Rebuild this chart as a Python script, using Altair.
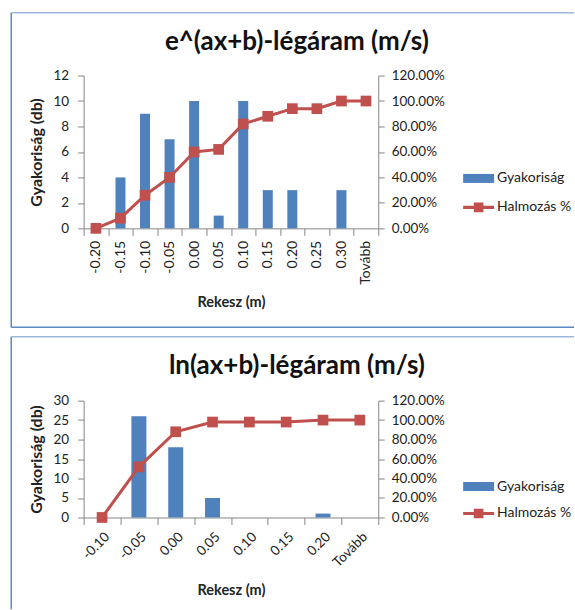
import altair as alt
import pandas as pd

# ---- data ----
cats1 = ["-0.20", "-0.15", "-0.10", "-0.05", "0.00", "0.05", "0.10", "0.15", "0.20", "0.25", "0.30", "Tovább"]
freq1 = [0, 4, 9, 7, 10, 1, 10, 3, 3, 0, 3, 0]
cum1 = [0.00, 0.08, 0.26, 0.40, 0.60, 0.62, 0.82, 0.88, 0.94, 0.94, 1.00, 1.00]

cats2 = ["-0.10", "-0.05", "0.00", "0.05", "0.10", "0.15", "0.20", "Tovább"]
freq2 = [0, 26, 18, 5, 0, 0, 1, 0]
cum2 = [0.00, 0.52, 0.88, 0.98, 0.98, 0.98, 1.00, 1.00]

title1 = "e^(ax+b)-légáram (m/s)"
title2 = "ln(ax+b)-légáram (m/s)"
bar_name = "Gyakoriság"
line_name = "Halmozás %"

FONT = "Lato"
BLUE = "#4F81BD"
RED = "#C0504D"
AXC = "#868686"


def make_chart(cats, freq, cum, title, W, H, ymax, ystep, bar_size, label_angle,
               x_label_size, x_title_pad, leg_y1, leg_y2, frame_top, frame_bottom, has_bottom):
    df = pd.DataFrame({"rekesz": cats, "gyak": freq, "halm": cum,
                       "s1": [bar_name] * len(cats), "s2": [line_name] * len(cats)})
    xenc = alt.X("rekesz:N", sort=cats, title="Rekesz (m)",
                 scale=alt.Scale(paddingInner=0, paddingOuter=0),
                 axis=alt.Axis(labelAngle=label_angle, tickBand="extent", tickSize=7,
                               labelPadding=5, labelFontSize=x_label_size,
                               titleFontSize=14.5, titlePadding=x_title_pad))
    base = alt.Chart(df)
    bars = base.mark_bar(size=bar_size).encode(
        x=xenc,
        y=alt.Y("gyak:Q", title="Gyakoriság (db)",
                scale=alt.Scale(domain=[0, ymax], nice=False),
                axis=alt.Axis(values=list(range(0, ymax + 1, ystep)), tickSize=6,
                              labelPadding=9, titlePadding=9, titleFontSize=16)),
        color=alt.Color("s1:N", scale=alt.Scale(domain=[bar_name], range=[BLUE]),
                        legend=alt.Legend(orient="none", legendX=380, legendY=leg_y1,
                                          title=None, symbolType="M-1,-0.29H1V0.29H-1Z",
                                          symbolSize=961, symbolStrokeWidth=0,
                                          labelFont=FONT, labelFontSize=14,
                                          labelColor="#222", labelOffset=3, padding=0)),
    )
    yr = alt.Y("halm:Q", title=None,
               scale=alt.Scale(domain=[0, 1.2], nice=False),
               axis=alt.Axis(format=".2%", values=[0, 0.2, 0.4, 0.6, 0.8, 1.0, 1.2],
                             tickSize=6, labelPadding=7, orient="right"))
    line = base.mark_line(color=RED, strokeWidth=3).encode(x=alt.X("rekesz:N", sort=cats), y=yr)
    pts = base.mark_point(shape="square", filled=True, size=115, opacity=1).encode(
        x=alt.X("rekesz:N", sort=cats), y=yr,
        fill=alt.Fill("s2:N", scale=alt.Scale(domain=[line_name], range=[RED]),
                      legend=alt.Legend(orient="none", legendX=380, legendY=leg_y2,
                                        title=None,
                                        symbolType="M-1,-0.1H1V0.1H-1Z M-0.31,-0.31H0.31V0.31H-0.31Z",
                                        symbolSize=961, symbolStrokeWidth=0,
                                        labelFont=FONT, labelFontSize=14,
                                        labelColor="#222", labelOffset=3, padding=0)),
    )
    one = alt.Chart(pd.DataFrame({"k": [0]}))
    fl = one.mark_rule(color="#5B87C2", strokeWidth=1.5).encode(
        x=alt.value(-72.5), y=alt.value(frame_top), y2=alt.value(frame_bottom))
    ft = one.mark_rule(color="#9DB8DA", strokeWidth=1.5).encode(
        x=alt.value(-72.5), x2=alt.value(491), y=alt.value(frame_top))
    layers = [fl, ft]
    if has_bottom:
        fb = one.mark_rule(color="#5B87C2", strokeWidth=1.5).encode(
            x=alt.value(-72.5), x2=alt.value(491), y=alt.value(frame_bottom))
        layers.append(fb)
    right = alt.layer(line, pts)
    ch = alt.layer(*layers, bars, right).resolve_scale(y="independent").properties(
        width=W, height=H,
        title=alt.Title(title, fontSize=26, font=FONT, fontWeight="bold", color="#111",
                        anchor="middle", dx=66, offset=-43),
    )
    return ch


c1 = make_chart(cats1, freq1, cum1, title1, 295, 153, 12, 2, 10, -90, 14, 11,
                leg_y1=87.5, leg_y2=116.5, frame_top=-63, frame_bottom=252, has_bottom=True)
c2 = make_chart(cats2, freq2, cum2, title2, 295, 117, 30, 5, 15, -45, 13.5, 15,
                leg_y1=70.5, leg_y2=97.5, frame_top=-64, frame_bottom=209, has_bottom=False)

chart = alt.vconcat(c1, c2, spacing=7.5, background="white").resolve_scale(
    color="independent", fill="independent"
).properties(
    padding={"left": 9.75, "top": 11.25, "right": 0, "bottom": 0}
).configure_view(stroke=None).configure_axis(
    domainColor=AXC, tickColor=AXC, grid=False, labelFont=FONT, labelFontSize=13.5,
    labelColor="#222", titleFont=FONT, titleFontSize=14.5, titleFontWeight="bold",
    titleColor="#222", domainWidth=1, tickWidth=1
)

chart.save("out.html", embed_options={"renderer": "svg", "actions": False})
